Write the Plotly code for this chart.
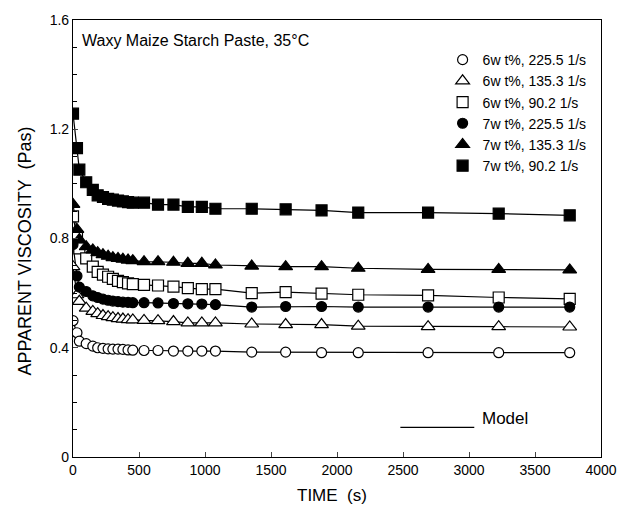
import plotly.graph_objects as go

time_s = [0, 30, 48, 100, 150, 187, 227, 266, 302, 341, 378, 417, 453, 538, 644, 761,
          870, 976, 1079, 1354, 1611, 1883, 2161, 2690, 3225, 3763]

w6_225 = [0.499, 0.455, 0.424, 0.415, 0.406, 0.400, 0.398, 0.396, 0.395, 0.395, 0.394, 0.392, 0.391,
          0.390, 0.390, 0.388, 0.388, 0.388, 0.388, 0.384, 0.384, 0.382, 0.382, 0.382, 0.382, 0.382]
w6_135 = [0.697, 0.594, 0.570, 0.545, 0.533, 0.525, 0.518, 0.514, 0.510, 0.507, 0.505, 0.503, 0.502,
          0.500, 0.499, 0.496, 0.491, 0.491, 0.491, 0.487, 0.485, 0.485, 0.479, 0.477, 0.477, 0.476]
w6_90 = [0.881, 0.808, 0.764, 0.727, 0.697, 0.678, 0.668, 0.660, 0.652, 0.645, 0.640, 0.636, 0.633,
         0.630, 0.628, 0.624, 0.618, 0.615, 0.615, 0.600, 0.604, 0.598, 0.594, 0.592, 0.584, 0.579]
w7_225 = [0.778, 0.663, 0.622, 0.606, 0.590, 0.584, 0.578, 0.574, 0.571, 0.569, 0.567, 0.566, 0.565,
          0.565, 0.564, 0.562, 0.561, 0.560, 0.558, 0.549, 0.551, 0.551, 0.549, 0.549, 0.549, 0.549]
w7_135 = [0.925, 0.833, 0.796, 0.770, 0.758, 0.748, 0.741, 0.735, 0.730, 0.727, 0.724, 0.721, 0.719,
          0.715, 0.715, 0.713, 0.709, 0.709, 0.703, 0.699, 0.697, 0.697, 0.691, 0.687, 0.687, 0.685]
w7_90 = [1.257, 1.131, 1.052, 1.006, 0.978, 0.958, 0.952, 0.945, 0.942, 0.939, 0.936, 0.933, 0.931,
         0.931, 0.924, 0.924, 0.916, 0.916, 0.909, 0.909, 0.907, 0.903, 0.895, 0.895, 0.891, 0.885]

series_names = ["6w t%, 225.5 1/s", "6w t%, 135.3 1/s", "6w t%, 90.2 1/s",
                "7w t%, 225.5 1/s", "7w t%, 135.3 1/s", "7w t%, 90.2 1/s"]
series_values = [w6_225, w6_135, w6_90, w7_225, w7_135, w7_90]
symbols = ["circle-open", "triangle-up-open", "square-open", "circle", "triangle-up", "square"]
sizes = [10, 12, 11, 10, 12, 11]

y_tickvals = [0, 0.4, 0.8, 1.2, 1.6]
y_ticktext = ["0", "0.4", "0.8", "1.2", "1.6"]
x_tickvals = [0, 500, 1000, 1500, 2000, 2500, 3000, 3500, 4000]

FONT = "Liberation Sans, Arial, Helvetica, sans-serif"

fig = go.Figure()
# model lines
for name, vals in zip(series_names, series_values):
    fig.add_trace(go.Scatter(x=time_s, y=vals, mode="lines", showlegend=False,
                             line=dict(color="black", width=1.2), hoverinfo="skip"))
# markers
for name, vals, sym, sz in zip(series_names, series_values, symbols, sizes):
    filled = not sym.endswith("open")
    fig.add_trace(go.Scatter(
        x=time_s, y=vals, mode="markers", name=name,
        marker=dict(symbol=sym.replace("-open", ""), size=sz,
                    color="black" if filled else "white",
                    line=dict(color="black", width=1.2))))

fig.update_layout(
    width=629, height=514,
    margin=dict(l=73, r=26, t=20, b=57),
    paper_bgcolor="white", plot_bgcolor="white",
    font=dict(family=FONT, size=14, color="black"),
    showlegend=True,
    legend=dict(x=0.7, y=0.945, xanchor="left", yanchor="top",
                bgcolor="rgba(0,0,0,0)", font=dict(size=14, family=FONT),
                itemwidth=30, tracegroupgap=0),
    xaxis=dict(range=[0, 4000], tickvals=x_tickvals, ticks="inside", ticklen=5,
               showline=True, linecolor="black", linewidth=1.2, mirror=True,
               showgrid=False, zeroline=False, tickfont=dict(size=14)),
    yaxis=dict(range=[0, 1.6], tickvals=y_tickvals, ticktext=y_ticktext,
               ticks="inside", ticklen=5,
               minor=dict(dtick=0.1, ticks="inside", ticklen=4, tickcolor="black"),
               showline=True, linecolor="black", linewidth=1.2, mirror=True,
               showgrid=False, zeroline=False, tickfont=dict(size=14)),
    annotations=[
        dict(text="Waxy Maize Starch Paste, 35°C", xref="paper", yref="paper",
             x=0.013, y=0.954, xanchor="left", yanchor="middle", showarrow=False,
             font=dict(size=16)),
        dict(text="APPARENT VISCOSITY  (Pas)", xref="paper", yref="paper",
             x=0, y=0.47, xanchor="center", yanchor="middle", xshift=-48,
             textangle=-90, showarrow=False, font=dict(size=18)),
        dict(text="TIME  (s)", xref="paper", yref="paper",
             x=0.49, y=0, xanchor="center", yanchor="middle", yshift=-38,
             showarrow=False, font=dict(size=17)),
        dict(text="Model", xref="paper", yref="paper", x=0.771, y=0.089,
             xanchor="left", yanchor="middle", showarrow=False, font=dict(size=17)),
    ],
    shapes=[dict(type="line", xref="paper", yref="paper", x0=0.62, x1=0.76,
                 y0=0.068, y1=0.068, line=dict(color="black", width=1.2))],
)

fig.write_html("out.html")
